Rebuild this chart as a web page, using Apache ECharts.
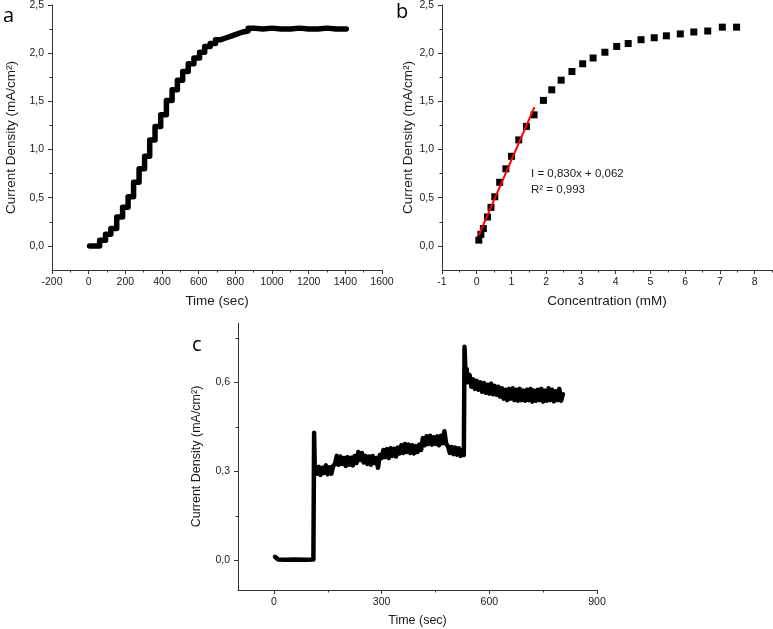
<!DOCTYPE html>
<html>
<head>
<meta charset="utf-8">
<script src="https://cdn.jsdelivr.net/npm/echarts@6/dist/echarts.min.js"></script>
<style>
html,body{margin:0;padding:0;background:#fff;}
#chart{width:773px;height:629px;}
</style>
</head>
<body>
<div id="chart"></div>
<script>
// ---------- Panel a : chronoamperometric staircase ----------
const aStepTime  = [5, 60, 92, 121, 153, 185, 215, 245, 275, 305, 333, 362, 393, 424, 455, 484, 513, 543, 574, 605, 633, 663, 692, 721, 751, 781, 811, 840, 870];
const aStepLevel = [0.00, 0.06, 0.12, 0.18, 0.30, 0.40, 0.51, 0.66, 0.80, 0.93, 1.10, 1.24, 1.36, 1.51, 1.62, 1.72, 1.81, 1.89, 1.95, 2.01, 2.07, 2.10, 2.14, 2.16, 2.18, 2.20, 2.22, 2.23, 2.26];
const aTailTime  = [900, 950, 1000, 1050, 1100, 1150, 1200, 1250, 1300, 1350, 1405];
const aTailLevel = [2.25, 2.26, 2.25, 2.25, 2.26, 2.25, 2.25, 2.26, 2.25, 2.25, 2.25];
const aXTicks = [-200, 0, 200, 400, 600, 800, 1000, 1200, 1400, 1600];
const aXMinor = [-100, 100, 300, 500, 700, 900, 1100, 1300, 1500];
const abYTicks = [0, 0.5, 1.0, 1.5, 2.0, 2.5];
const abYMinor = [0.25, 0.75, 1.25, 1.75, 2.25];

// ---------- Panel b : calibration ----------
const bConc = [0.06, 0.12, 0.19, 0.31, 0.41, 0.52, 0.66, 0.84, 1.00, 1.21, 1.43, 1.65, 1.92, 2.16, 2.43, 2.74, 3.05, 3.35, 3.69, 4.03, 4.36, 4.73, 5.11, 5.46, 5.86, 6.25, 6.65, 7.07, 7.48];
const bCur  = [0.06, 0.12, 0.18, 0.30, 0.40, 0.51, 0.66, 0.80, 0.93, 1.10, 1.24, 1.36, 1.51, 1.62, 1.72, 1.81, 1.89, 1.95, 2.01, 2.07, 2.10, 2.14, 2.16, 2.18, 2.20, 2.22, 2.23, 2.27, 2.27];
const bFitX = [0.06, 1.66];
const bFitY = [0.112, 1.440];
const bXTicks = [-1, 0, 1, 2, 3, 4, 5, 6, 7, 8];
const bXMinor = [-0.5, 0.5, 1.5, 2.5, 3.5, 4.5, 5.5, 6.5, 7.5, 8.5];
const bFitText1 = 'I = 0,830x + 0,062';
const bFitText2 = 'R² = 0,993';

// ---------- Panel c : interference test ----------
const cTime = [3, 6, 12, 30, 60, 90, 110, 112, 114,
  115, 120, 125, 130, 135, 140, 145, 150, 155, 160, 165, 170, 175, 180, 185, 190, 195, 200, 205, 210,
  215, 220, 225, 230, 235, 240, 245, 250, 255, 260, 265, 270, 275, 280, 285, 290, 295, 300, 305, 310,
  315, 320, 325, 330, 335, 340, 345, 350, 355, 360, 365, 370, 375, 380, 385, 390, 395, 400, 405, 410,
  415, 420, 425, 430, 435, 440, 445, 450, 455, 460, 465, 470, 475, 480, 485, 490, 495, 500, 505, 510,
  515, 520, 525, 529, 531, 534,
  537, 540, 545, 550, 555, 560, 565, 570, 575, 580, 585, 590, 595, 600, 605, 610, 615, 620, 625, 630,
  635, 640, 645, 650, 655, 660, 665, 670, 675, 680, 685, 690, 695, 700, 705, 710, 715, 720, 725, 730,
  735, 740, 745, 750, 755, 760, 765, 770, 775, 780, 785, 790, 795, 800, 805];
const cVal = [0.012, 0.006, 0.003, 0.002, 0.003, 0.002, 0.003, 0.43, 0.30,
  0.318, 0.292, 0.315, 0.288, 0.312, 0.295, 0.320, 0.290, 0.314, 0.292, 0.318, 0.325, 0.352, 0.322, 0.350, 0.325, 0.345, 0.318, 0.348, 0.322,
  0.346, 0.320, 0.352, 0.328, 0.365, 0.338, 0.362, 0.330, 0.352, 0.325, 0.350, 0.322, 0.352, 0.328, 0.345, 0.312, 0.355, 0.345, 0.372, 0.348,
  0.375, 0.345, 0.378, 0.352, 0.376, 0.350, 0.380, 0.360, 0.388, 0.362, 0.392, 0.365, 0.390, 0.362, 0.388, 0.360, 0.385, 0.365, 0.390, 0.372,
  0.412, 0.388, 0.418, 0.392, 0.420, 0.390, 0.415, 0.392, 0.418, 0.388, 0.420, 0.395, 0.435, 0.392, 0.385, 0.362, 0.382, 0.358, 0.380, 0.356,
  0.378, 0.352, 0.372, 0.355, 0.72, 0.62,
  0.645, 0.600, 0.625, 0.585, 0.610, 0.578, 0.605, 0.575, 0.600, 0.568, 0.598, 0.565, 0.592, 0.562, 0.595, 0.560, 0.588, 0.558, 0.585, 0.552,
  0.580, 0.545, 0.575, 0.540, 0.578, 0.545, 0.580, 0.540, 0.575, 0.538, 0.578, 0.540, 0.572, 0.538, 0.575, 0.540, 0.578, 0.535, 0.572, 0.538,
  0.575, 0.540, 0.578, 0.535, 0.572, 0.538, 0.580, 0.540, 0.575, 0.536, 0.570, 0.540, 0.578, 0.538, 0.560];
const cXTicks = [0, 300, 600, 900];
const cXMinor = [150, 450, 750];
const cYTicks = [0, 0.3, 0.6];
const cYMinor = [0.15, 0.45, 0.75];

const yTitle = 'Current Density (mA/cm²)';

// ---------- build ----------
const FONT = 'Liberation Sans, Arial, sans-serif';
const TXT = '#1a1a1a';
const AX = '#333';
const comma = v => v.toFixed(1).replace('.', ',');

const aData = aStepTime.map((t, i) => [t, aStepLevel[i]]).concat(aTailTime.map((t, i) => [t, aTailLevel[i]]));
const bData = bConc.map((c, i) => [c, bCur[i]]);
const fitData = bFitX.map((x, i) => [x, bFitY[i]]);
const cData = cTime.map((t, i) => [t, cVal[i]]);

function majorX(grid, min, max, ticks, fmt, name, gap, fs, nfs) {
  return {
    type: 'value', gridIndex: grid, min, max, position: 'bottom',
    name, nameLocation: 'middle', nameGap: gap,
    nameTextStyle: { fontFamily: FONT, fontSize: nfs, color: TXT },
    axisLine: { show: true, onZero: false, lineStyle: { color: AX, width: 1 } },
    axisTick: { show: true, inside: false, length: 4, customValues: ticks, lineStyle: { color: AX } },
    axisLabel: { show: true, customValues: ticks, formatter: fmt, margin: 7, fontFamily: FONT, fontSize: fs, color: TXT },
    splitLine: { show: false }
  };
}
function minorX(grid, min, max, ticks) {
  return {
    type: 'value', gridIndex: grid, min, max, position: 'bottom', offset: 0,
    axisLine: { show: false, onZero: false },
    axisTick: { show: true, inside: false, length: 2.5, customValues: ticks, lineStyle: { color: AX } },
    axisLabel: { show: false },
    splitLine: { show: false }
  };
}
function majorY(grid, min, max, ticks, fmt, name, gap, fs, nfs) {
  return {
    type: 'value', gridIndex: grid, min, max, position: 'left',
    name, nameLocation: 'middle', nameGap: gap,
    nameTextStyle: { fontFamily: FONT, fontSize: nfs, color: TXT },
    axisLine: { show: true, onZero: false, lineStyle: { color: AX, width: 1 } },
    axisTick: { show: true, inside: false, length: 4, customValues: ticks, lineStyle: { color: AX } },
    axisLabel: { show: true, customValues: ticks, formatter: fmt, margin: 8, fontFamily: FONT, fontSize: fs, color: TXT },
    splitLine: { show: false }
  };
}
function minorY(grid, min, max, ticks) {
  return {
    type: 'value', gridIndex: grid, min, max, position: 'left', offset: 0,
    axisLine: { show: false, onZero: false },
    axisTick: { show: true, inside: false, length: 2.5, customValues: ticks, lineStyle: { color: AX } },
    axisLabel: { show: false },
    splitLine: { show: false }
  };
}

const chart = echarts.init(document.getElementById('chart'), null, { renderer: 'canvas' });
chart.setOption({
  animation: false,
  backgroundColor: '#fff',
  grid: [
    { left: 52, top: 5, width: 330, height: 265, outerBoundsMode: 'none', containLabel: false },
    { left: 442, top: 5, width: 330, height: 265, outerBoundsMode: 'none', containLabel: false },
    { left: 238, top: 323, width: 359, height: 267, outerBoundsMode: 'none', containLabel: false }
  ],
  xAxis: [
    majorX(0, -200, 1600, aXTicks, v => String(v), 'Time (sec)', 24, 10.5, 13.5),
    minorX(0, -200, 1600, aXMinor),
    majorX(1, -1, 8.5, bXTicks, v => String(v), 'Concentration (mM)', 24, 10.5, 13.5),
    minorX(1, -1, 8.5, bXMinor),
    majorX(2, -100, 900, cXTicks, v => String(v), 'Time (sec)', 24, 10.5, 12.5),
    minorX(2, -100, 900, cXMinor)
  ],
  yAxis: [
    majorY(0, -0.25, 2.5, abYTicks, comma, yTitle, 34, 10.5, 13.5),
    minorY(0, -0.25, 2.5, abYMinor),
    majorY(1, -0.25, 2.5, abYTicks, comma, yTitle, 25, 10.5, 13.5),
    minorY(1, -0.25, 2.5, abYMinor),
    majorY(2, -0.1, 0.8, cYTicks, comma, yTitle, 35, 10.5, 12.5),
    minorY(2, -0.1, 0.8, cYMinor)
  ],
  series: [
    {
      type: 'line', xAxisIndex: 0, yAxisIndex: 0, data: aData, step: 'end',
      showSymbol: false, symbol: 'none',
      lineStyle: { color: '#000', width: 5.5, cap: 'round', join: 'round' }
    },
    {
      type: 'scatter', xAxisIndex: 2, yAxisIndex: 2, data: bData,
      symbol: 'rect', symbolSize: 7, itemStyle: { color: '#000', opacity: 1 }
    },
    {
      type: 'line', xAxisIndex: 2, yAxisIndex: 2, data: fitData, z: 5,
      showSymbol: false, symbol: 'none',
      lineStyle: { color: '#ff0000', width: 2 }
    },
    {
      type: 'line', xAxisIndex: 4, yAxisIndex: 4, data: cData,
      showSymbol: false, symbol: 'none',
      lineStyle: { color: '#000', width: 4.5, cap: 'round', join: 'round' }
    }
  ],
  graphic: [
    { type: 'text', left: 3, top: 6, style: { text: 'a', font: '20px "Open Sans", sans-serif', fill: '#000' } },
    { type: 'text', left: 396, top: 2, style: { text: 'b', font: '20px "Open Sans", sans-serif', fill: '#000' } },
    { type: 'text', left: 192, top: 335, style: { text: 'c', font: '20px "Open Sans", sans-serif', fill: '#000' } },
    { type: 'text', left: 531, top: 166, style: { text: bFitText1 + '\n' + bFitText2, font: '11.5px ' + FONT, fill: TXT, lineHeight: 16 } }
  ]
});
</script>
</body>
</html>
